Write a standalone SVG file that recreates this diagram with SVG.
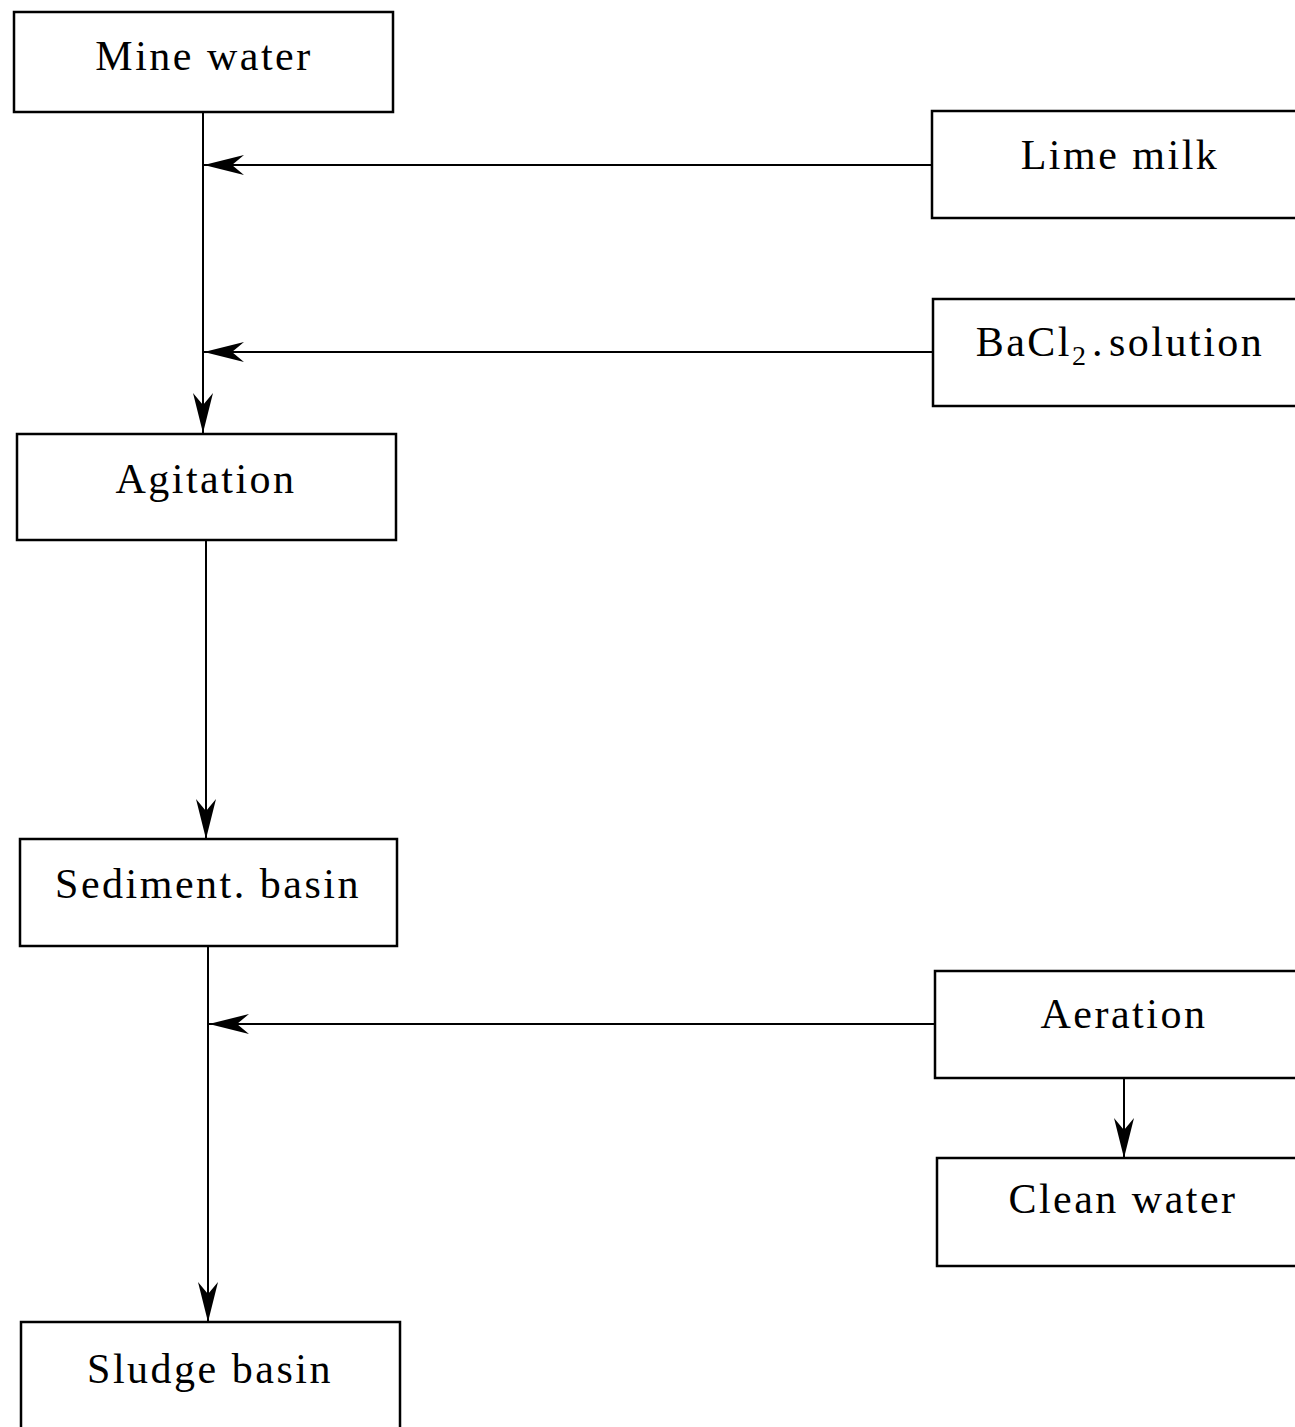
<svg xmlns="http://www.w3.org/2000/svg" width="1295" height="1427" viewBox="0 0 1295 1427">
<style>
.box{fill:#fff;stroke:#000;stroke-width:2.5}
.lbl{font-family:"Liberation Serif","Times New Roman",serif;font-size:42px;letter-spacing:2.5px;fill:#000;text-anchor:middle}
.con{stroke:#000;stroke-width:2;fill:none;marker-end:url(#ah)}
</style>
<defs>
<marker id="ah" markerUnits="userSpaceOnUse" markerWidth="44" markerHeight="24" refX="42" refY="12" orient="auto" viewBox="0 0 44 24">
<path d="M42,12 L2,2 L14,12 L2,22 Z" fill="#000"/>
</marker>
</defs>
<rect width="1295" height="1427" fill="#fff"/>
<g id="connectors">
<line class="con" x1="203" y1="112" x2="203" y2="433"/>
<line class="con" x1="932" y1="165" x2="204" y2="165"/>
<line class="con" x1="933" y1="352" x2="204" y2="352"/>
<line class="con" x1="206" y1="540" x2="206" y2="839"/>
<line class="con" x1="208" y1="946" x2="208" y2="1322"/>
<line class="con" x1="935" y1="1024" x2="209" y2="1024"/>
<line class="con" x1="1124" y1="1078" x2="1124" y2="1158"/>
</g>
<g id="mine-water">
<rect class="box" x="14" y="12" width="379" height="100"/>
<text class="lbl" x="204" y="70">Mine water</text>
</g>
<g id="lime-milk">
<rect class="box" x="932" y="111" width="400" height="107"/>
<text class="lbl" x="1120" y="169">Lime milk</text>
</g>
<g id="bacl2-solution">
<rect class="box" x="933" y="299" width="400" height="107"/>
<text class="lbl" x="1120" y="356">BaCl<tspan font-size="28" dy="9" letter-spacing="1">2</tspan><tspan dy="-9" dx="5">.</tspan><tspan dx="4">solution</tspan></text>
</g>
<g id="agitation">
<rect class="box" x="17" y="434" width="379" height="106"/>
<text class="lbl" x="206" y="493">Agitation</text>
</g>
<g id="sediment-basin">
<rect class="box" x="20" y="839" width="377" height="107"/>
<text class="lbl" x="208" y="898">Sediment. basin</text>
</g>
<g id="aeration">
<rect class="box" x="935" y="971" width="400" height="107"/>
<text class="lbl" x="1124" y="1028">Aeration</text>
</g>
<g id="clean-water">
<rect class="box" x="937" y="1158" width="400" height="108"/>
<text class="lbl" x="1123" y="1213">Clean water</text>
</g>
<g id="sludge-basin">
<rect class="box" x="21" y="1322" width="379" height="130"/>
<text class="lbl" x="210" y="1383">Sludge basin</text>
</g>
</svg>
